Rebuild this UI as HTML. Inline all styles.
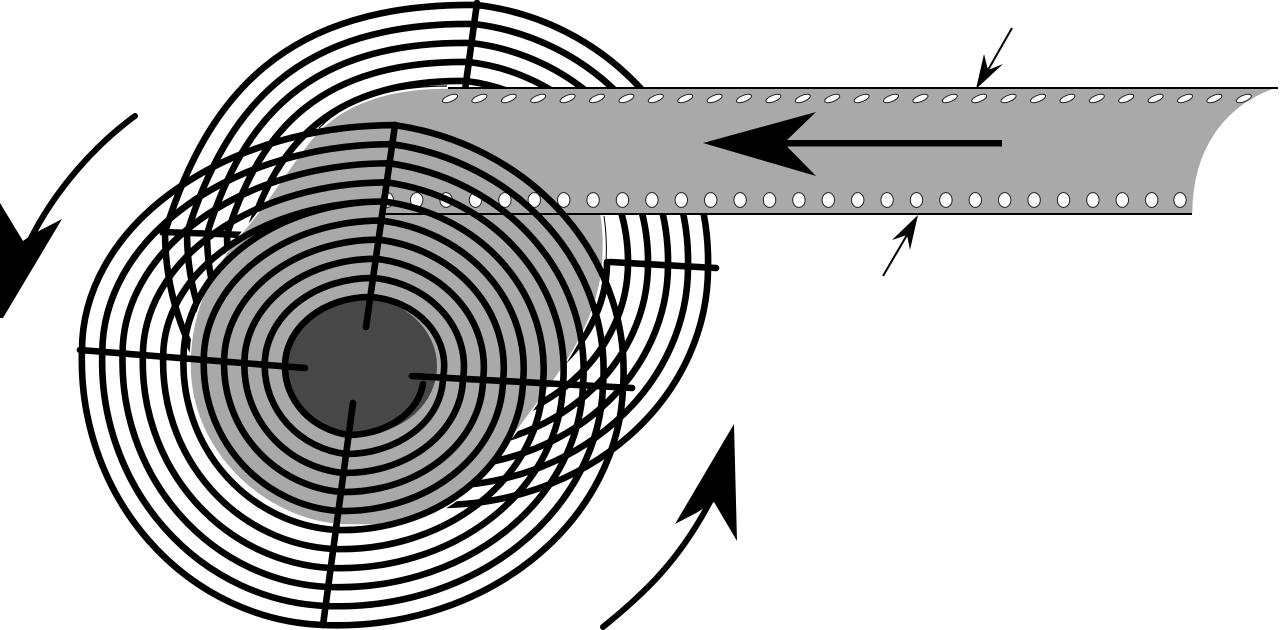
<!DOCTYPE html>
<html><head><meta charset="utf-8"><style>html,body{margin:0;padding:0;background:#fff}svg{display:block}</style></head>
<body>
<svg xmlns="http://www.w3.org/2000/svg" width="1280" height="630" viewBox="0 0 1280 630">
<defs>
<ellipse id="a" rx="8" ry="3.2" transform="rotate(-22)" fill="#fff" stroke="#222" stroke-width="1"/>
<ellipse id="b" rx="6.2" ry="7.4" fill="#fff" stroke="#222" stroke-width="1"/>
</defs>
<rect width="1280" height="630" fill="#fff"/>
<!-- back spiral -->
<g fill="none" stroke="#000" stroke-width="6.6" stroke-linecap="round">
<path d="M476.7 5A262 258 0 0 1 708 267.6M474 24A243 239 0 0 1 688 266.5M471.3 43A223 220 0 0 1 668 265.4M468.6 62A203 201 0 0 1 648 264.3M466 81A184 182 0 0 1 628 263.2"/>
<path d="M708 267.6A268 237 0 0 1 440 505M688 266.5A248 219 0 0 1 440 486M668 265.4A228 202 0 0 1 440 467M648 264.3A208 184 0 0 1 440 448M628 263.2A188 166 0 0 1 440 429M607 262A167 148 0 0 1 440 410"/>
<path d="M440 505A275 273 0 0 1 165 232M440 486A253 253 0 0 1 187 233M440 467A233 233 0 0 1 207 234M440 448A213 213 0 0 1 227 234.6M440 429A192 193 0 0 1 248 236"/>
<path d="M165 232C208 95 285 3 476.7 5M187 233C226.6 107 297.4 22 474 24M207 234C243 118 309 41 471.3 43M227 234.6C260 129 320.7 60.5 468.6 62M248 236C277.7 141.5 333.5 79.6 466 81"/>
<path d="M477 3L465 90M610 262L716 268M163 227L163 232L245 235"/>
</g>
<!-- film -->
<path d="M1278 88L448 88C385 88 345 105 320 130C300 150 280 185 250 223C220 258 190 300 190 365C190 455 270 525 350 525L383 525C410 525 432 517 453 503C475 488 500 452 520 427L547 390C560 372 600 320 603 260C604 240 603 225 601 214L1193 214C1193 150 1225 105 1278 88Z" fill="#a9a9a9" stroke="#fff" stroke-width="1.5"/>
<path d="M448 88L1278 88" stroke="#000" stroke-width="2" fill="none"/>
<path d="M385 214L1192 214" stroke="#000" stroke-width="2" fill="none"/>
<path d="M448 88C385 88 345 105 320 130" stroke="#000" stroke-width="1.2" fill="none" transform="translate(-1,-2)"/>
<path d="M604 216C606 230 607 245 606 262" stroke="#000" stroke-width="1" fill="none"/>
<g>
<use href="#a" x="450" y="98.5"/><use href="#a" x="479.4" y="98.5"/><use href="#a" x="508.8" y="98.5"/><use href="#a" x="538.2" y="98.5"/><use href="#a" x="567.6" y="98.5"/><use href="#a" x="597" y="98.5"/><use href="#a" x="626.4" y="98.5"/><use href="#a" x="655.8" y="98.5"/><use href="#a" x="685.2" y="98.5"/><use href="#a" x="714.6" y="98.5"/><use href="#a" x="744" y="98.5"/><use href="#a" x="773.4" y="98.5"/><use href="#a" x="802.8" y="98.5"/><use href="#a" x="832.2" y="98.5"/><use href="#a" x="861.6" y="98.5"/><use href="#a" x="891" y="98.5"/><use href="#a" x="920.4" y="98.5"/><use href="#a" x="949.8" y="98.5"/><use href="#a" x="979.2" y="98.5"/><use href="#a" x="1008.6" y="98.5"/><use href="#a" x="1038" y="98.5"/><use href="#a" x="1067.4" y="98.5"/><use href="#a" x="1096.8" y="98.5"/><use href="#a" x="1126.2" y="98.5"/><use href="#a" x="1155.6" y="98.5"/><use href="#a" x="1185" y="98.5"/><use href="#a" x="1214.4" y="98.5"/><use href="#a" x="1243.8" y="98.5"/>
<use href="#b" x="387.3" y="200"/><use href="#b" x="416.7" y="200"/><use href="#b" x="446.1" y="200"/><use href="#b" x="475.5" y="200"/><use href="#b" x="504.9" y="200"/><use href="#b" x="534.3" y="200"/><use href="#b" x="563.7" y="200"/><use href="#b" x="593.1" y="200"/><use href="#b" x="622.5" y="200"/><use href="#b" x="651.9" y="200"/><use href="#b" x="681.3" y="200"/><use href="#b" x="710.7" y="200"/><use href="#b" x="740.1" y="200"/><use href="#b" x="769.5" y="200"/><use href="#b" x="798.9" y="200"/><use href="#b" x="828.3" y="200"/><use href="#b" x="857.7" y="200"/><use href="#b" x="887.1" y="200"/><use href="#b" x="916.5" y="200"/><use href="#b" x="945.9" y="200"/><use href="#b" x="975.3" y="200"/><use href="#b" x="1004.7" y="200"/><use href="#b" x="1034.1" y="200"/><use href="#b" x="1063.5" y="200"/><use href="#b" x="1092.9" y="200"/><use href="#b" x="1122.3" y="200"/><use href="#b" x="1151.7" y="200"/><use href="#b" x="1180" y="200"/>
</g>
<!-- hub -->
<ellipse cx="361" cy="366" rx="76" ry="68" fill="#474747"/>
<!-- front spiral -->
<g fill="none" stroke="#000" stroke-width="6.6" stroke-linecap="round">
<path d="M370.3 297A80 69 0 0 1 443 377.7M373 277.9A101 89 0 0 1 463 378.8M375.8 258.8A123 109 0 0 1 483 379.9M378.5 239.7A144 129 0 0 1 503 381M381.3 220.6A165 149 0 0 1 523 382M384 201.5A187 169 0 0 1 543 383.1M386.7 182.4A208 189 0 0 1 563 384.2M389.5 163.3A229 209 0 0 1 583 385.3M392.2 144.2A250 229 0 0 1 603 386.4M394.9 125.1A272 249 0 0 1 623 387.5"/>
<path d="M423 384A76 58 0 0 1 348.7 435M443 377.7A97 77 0 0 1 346.1 454M463 378.8A118 96 0 0 1 343.6 473M483 379.9A139 114 0 0 1 341 492M503 381A160 133 0 0 1 338.4 511M523 382A181 152 0 0 1 335.9 530M543 383.1A202 170 0 0 1 333.3 549M563 384.2A223 189 0 0 1 330.7 568M583 385.3A244 208 0 0 1 328.2 587M603 386.4A265 227 0 0 1 325.6 606M623 387.5A286 245 0 0 1 323 625"/>
<path d="M348.7 435A75 69 0 0 1 285 366.4M346.1 454A93 89 0 0 1 264.7 364.8M343.6 473A110 108 0 0 1 244.4 363.2M341 492A128 128 0 0 1 224.1 361.5M338.4 511A145 147 0 0 1 203.8 359.9M335.9 530A163 167 0 0 1 183.5 358.3M333.3 549A180 187 0 0 1 163.2 356.7M330.7 568A198 206 0 0 1 142.9 355.1M328.2 587A215 226 0 0 1 122.6 353.4M325.6 606A233 245 0 0 1 102.3 351.8M323 625A250 265 0 0 1 82 350.2"/>
<path d="M285 366.4A85 69 0 0 1 370.3 297M264.7 364.8A108 87 0 0 1 373 277.9M244.4 363.2A131 104 0 0 1 375.8 258.8M224.1 361.5A154 122 0 0 1 378.5 239.7M203.8 359.9A177.5 139 0 0 1 381.3 220.6M183.5 358.3A200.5 157 0 0 1 384 201.5M163.2 356.7A221 155 0 0 1 384 201.5M142.9 355.1A244 173 0 0 1 386.7 182.4M122.6 353.4A267 190 0 0 1 389.5 163.3M102.3 351.8A290 208 0 0 1 392.2 144.2M82 350.2A313 225 0 0 1 394.9 125.1"/>
<path d="M395 125L366 327M80 350L305 368M353 403L323 625M412 376L632 388"/>
</g>
<!-- big straight arrow -->
<path d="M703 143L816 112L787 140L1002 140L1002 146.5L787 146.5L816 176Z" fill="#000"/>
<!-- small arrows -->
<path d="M1012 28L988 70" stroke="#000" stroke-width="2" fill="none"/>
<path d="M976 89L984 54L988 70L1003 64Z" fill="#000"/>
<path d="M883 276L907 235" stroke="#000" stroke-width="2" fill="none"/>
<path d="M918 215L892 240L907 235L910 250Z" fill="#000"/>
<!-- curved arrows -->
<path d="M135 116C95 145 55 190 30 240" fill="none" stroke="#000" stroke-width="6" stroke-linecap="round"/>
<path d="M0 203L23 241L30 236L39 231L62 219L3 318L0 318Z" fill="#000"/>
<path d="M603 627C645 593 680 560 712 498" fill="none" stroke="#000" stroke-width="6" stroke-linecap="round"/>
<path d="M734 424L737 541L714 502L708 505L698 512L675 524Z" fill="#000"/>
</svg>
</body></html>
